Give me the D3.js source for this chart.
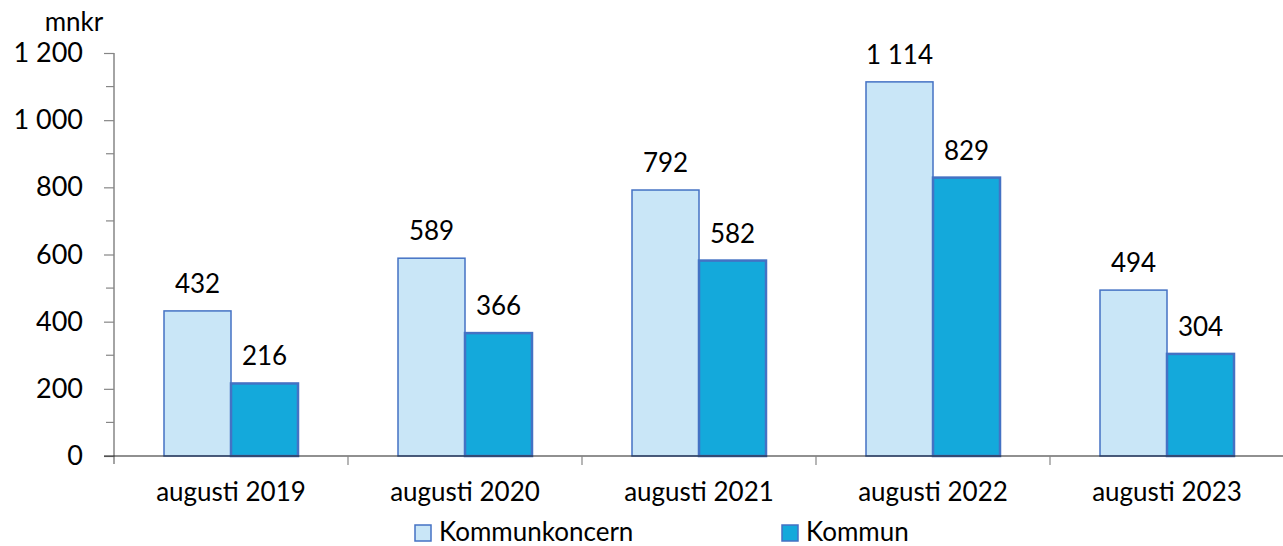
<!DOCTYPE html>
<html>
<head>
<meta charset="utf-8">
<script src="https://cdn.jsdelivr.net/npm/d3@7"></script>
<style>
  body { margin: 0; background: #fff; }
  text { font-family: Lato, "Open Sans", sans-serif; fill: #000; }
</style>
</head>
<body>
<div id="chart"></div>
<script>
// data
const kategorier = ['augusti 2019', 'augusti 2020', 'augusti 2021', 'augusti 2022', 'augusti 2023'];
const serier = ['Kommunkoncern', 'Kommun'];
const kommunkoncern = [432, 589, 792, 1114, 494];
const kommun = [216, 366, 582, 829, 304];
const yTicks = [0, 200, 400, 600, 800, 1000, 1200];

const width = 1283, height = 546;
const margin = { top: 53, right: 0, bottom: 90, left: 114 };
const steg = 234;

const fyllning = ['#c9e6f7', '#14a9db'];
const kantBredd = [1.5, 2.5];

const fmt = v => d3.format(',')(v).replace(/,/g, ' ');

const svg = d3.select('#chart').append('svg')
  .attr('width', width)
  .attr('height', height);

const x = d3.scaleBand()
  .domain(kategorier)
  .range([margin.left, margin.left + steg * kategorier.length]);

const inner = d3.scaleBand()
  .domain(serier)
  .range([50, steg - 50]);

const y = d3.scaleLinear()
  .domain([0, 1200])
  .range([height - margin.bottom, margin.top]);

// y-axel
const yAxis = svg.append('g')
  .attr('transform', `translate(${margin.left},0)`)
  .call(d3.axisLeft(y).tickValues(yTicks).tickFormat(fmt).tickSize(10).tickSizeOuter(0).tickPadding(21));
yAxis.select('.domain').attr('stroke', '#868686').attr('stroke-width', 1.5)
  .attr('d', `M0,${margin.top}V${y(0) + 8}`);
yAxis.selectAll('.tick line').attr('stroke', '#868686').attr('stroke-width', 1.2);
yAxis.selectAll('.tick text').style('font-size', '27px');

// mindre streck
svg.append('g')
  .selectAll('line')
  .data(d3.range(100, 1200, 200))
  .enter()
  .append('line')
  .attr('x1', margin.left - 8)
  .attr('x2', margin.left)
  .attr('y1', d => y(d))
  .attr('y2', d => y(d))
  .attr('stroke', '#868686')
  .attr('stroke-width', 1.2);

svg.append('text')
  .attr('x', 74)
  .attr('y', 31)
  .attr('text-anchor', 'middle')
  .style('font-size', '26px')
  .text('mnkr');

const data = kategorier.map((k, i) => ({
  kategori: k,
  varden: [kommunkoncern[i], kommun[i]]
}));

const grupper = svg.selectAll('.grupp')
  .data(data)
  .enter()
  .append('g')
  .attr('transform', d => `translate(${x(d.kategori)},0)`);

grupper.selectAll('rect')
  .data(d => d.varden.map((v, j) => ({ serie: serier[j], v, j })))
  .enter()
  .append('rect')
  .attr('x', d => inner(d.serie))
  .attr('y', d => y(d.v))
  .attr('width', inner.bandwidth())
  .attr('height', d => y(0) - y(d.v))
  .attr('fill', d => fyllning[d.j])
  .attr('stroke', '#4472c4')
  .attr('stroke-width', d => kantBredd[d.j]);

grupper.selectAll('.etikett')
  .data(d => d.varden.map((v, j) => ({ serie: serier[j], v, j })))
  .enter()
  .append('text')
  .attr('class', 'etikett')
  .attr('x', d => inner(d.serie) + inner.bandwidth() / 2)
  .attr('y', d => y(d.v) - 18)
  .attr('text-anchor', 'middle')
  .style('font-size', '26px')
  .text(d => fmt(d.v));

// x-axel
const xAxis = svg.append('g')
  .attr('transform', `translate(0,${y(0)})`)
  .call(d3.axisBottom(x).tickSize(0));
xAxis.select('.domain').attr('stroke', '#222').attr('stroke-width', 1.2)
  .attr('d', `M${margin.left - 10},0H${margin.left + steg * kategorier.length}`);
xAxis.selectAll('.tick text')
  .attr('dy', null)
  .attr('y', 45)
  .style('font-size', '26px');

svg.append('g')
  .selectAll('line')
  .data(d3.range(1, kategorier.length + 1))
  .enter()
  .append('line')
  .attr('x1', i => margin.left + x.step() * i)
  .attr('x2', i => margin.left + x.step() * i)
  .attr('y1', y(0))
  .attr('y2', y(0) + 9)
  .attr('stroke', '#868686')
  .attr('stroke-width', 1.2);

// teckenförklaring
const legendX = [415, 782];
const legend = svg.selectAll('.legend')
  .data(serier)
  .enter()
  .append('g')
  .attr('transform', (d, i) => `translate(${legendX[i]},525)`);

legend.append('rect')
  .attr('width', 16)
  .attr('height', 16)
  .attr('fill', (d, i) => fyllning[i])
  .attr('stroke', '#4472c4')
  .attr('stroke-width', 1.5);

legend.append('text')
  .attr('x', 24)
  .attr('y', 16)
  .style('font-size', '26px')
  .text(d => d);
</script>
</body>
</html>
